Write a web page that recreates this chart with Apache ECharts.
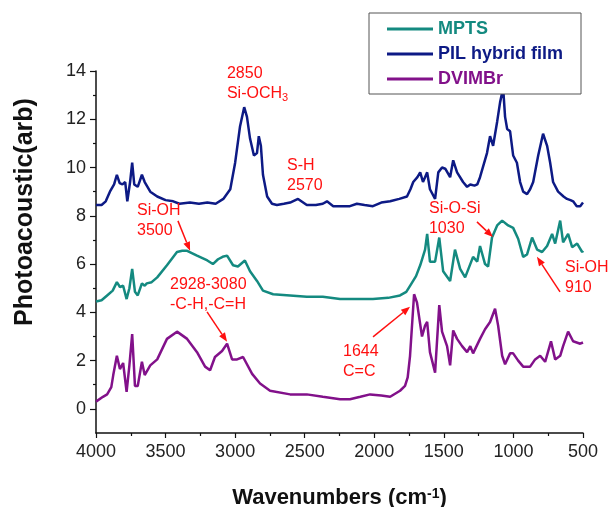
<!DOCTYPE html>
<html><head><meta charset="utf-8">
<script src="https://cdn.jsdelivr.net/npm/echarts@6/dist/echarts.min.js"></script>
<style>html,body{margin:0;padding:0;background:#fff}#c{width:608px;height:507px}</style>
</head><body><div id="c"></div>
<script>
const seriesNames = ['MPTS', 'PIL hybrid film', 'DVIMBr'];

const pilWave = [4000,3960,3930,3900,3870,3850,3830,3810,3790,3775,3755,3740,3725,3700,3670,3650,3610,3560,3500,3445,3400,3325,3260,3200,3140,3085,3035,3000,2965,2935,2915,2893,2865,2843,2830,2815,2800,2770,2735,2700,2650,2605,2548,2485,2420,2370,2340,2295,2246,2175,2125,2070,2010,1950,1886,1820,1765,1740,1720,1690,1670,1650,1635,1620,1600,1563,1540,1513,1490,1477,1455,1433,1405,1362,1333,1310,1280,1260,1240,1190,1168,1146,1117,1096,1074,1060,1045,1024,1002,975,952,930,902,880,858,822,787,758,736,715,679,640,615,590,571,545,520,500];
const pilVal = [8.45,8.45,8.6,9.0,9.3,9.7,9.35,9.3,9.4,8.6,9.4,10.2,9.3,9.2,9.7,9.4,9.0,8.8,8.65,8.6,8.5,8.55,8.5,8.55,8.5,8.7,9.1,10.2,11.7,12.5,12.1,11.2,10.5,10.6,11.3,10.9,9.7,8.8,8.5,8.45,8.5,8.55,8.7,8.45,8.45,8.5,8.6,8.4,8.4,8.4,8.5,8.45,8.4,8.55,8.6,8.7,8.8,9.1,9.4,9.6,9.8,9.4,9.6,9.8,9.1,8.7,9.8,10.0,9.95,10.0,9.6,10.3,9.8,9.4,9.2,9.3,9.25,9.3,9.6,10.6,11.3,10.9,11.9,12.7,13.3,12.1,11.6,11.5,10.5,10.2,9.4,9.0,8.9,9.1,9.4,10.5,11.4,10.9,10.2,9.4,9.0,8.8,8.7,8.65,8.6,8.4,8.4,8.55];

const mptsWave = [4000,3960,3920,3880,3850,3828,3805,3780,3760,3740,3720,3700,3670,3650,3635,3600,3560,3490,3418,3380,3345,3274,3200,3160,3123,3090,3058,3015,2980,2930,2893,2843,2800,2727,2605,2485,2370,2246,2175,2010,1900,1815,1770,1743,1700,1670,1635,1620,1600,1563,1533,1505,1455,1420,1383,1347,1290,1260,1240,1204,1182,1154,1117,1081,1038,1002,966,930,902,866,830,794,758,722,700,664,643,607,578,542,506,500];
const mptsVal = [4.45,4.5,4.7,4.9,5.25,5.05,5.1,4.55,5.0,5.8,4.85,4.7,5.2,5.1,5.2,5.25,5.45,5.95,6.5,6.55,6.55,6.35,6.15,6.0,6.2,6.3,6.35,5.95,5.9,6.15,5.7,5.3,4.9,4.75,4.7,4.65,4.65,4.55,4.55,4.55,4.6,4.7,4.85,5.1,5.5,5.95,6.6,7.25,6.1,6.1,7.1,5.7,5.3,6.6,5.8,5.45,6.3,6.1,6.75,6.0,5.9,7.1,7.6,7.8,7.6,7.5,7.05,6.3,6.4,7.1,6.6,6.5,6.75,7.25,6.85,7.8,6.9,7.25,6.7,6.85,6.5,6.55];

const dvimWave = [4000,3950,3920,3890,3876,3850,3828,3805,3780,3760,3740,3720,3700,3670,3650,3610,3560,3490,3418,3345,3274,3216,3180,3145,3094,3058,3022,2986,2943,2878,2821,2749,2605,2485,2370,2246,2175,2100,2030,1950,1886,1815,1779,1760,1743,1714,1693,1657,1635,1620,1600,1563,1533,1513,1477,1455,1433,1405,1369,1333,1310,1290,1240,1204,1168,1132,1110,1081,1060,1024,1002,966,930,880,844,808,772,730,700,664,643,607,571,520,500];
const dvimVal = [0.3,0.5,0.6,0.9,1.4,2.2,1.65,1.9,0.7,1.8,3.1,0.95,0.95,1.95,1.4,1.8,2.05,2.9,3.2,2.9,2.35,1.75,1.6,2.15,2.4,2.7,2.05,2.05,2.15,1.45,1.05,0.75,0.6,0.6,0.5,0.4,0.4,0.5,0.6,0.55,0.5,0.75,0.95,1.3,2.2,4.75,4.4,3.0,3.45,3.6,2.35,1.5,4.3,3.2,2.6,1.8,3.25,2.9,2.6,2.35,2.6,2.3,2.9,3.3,3.6,4.15,3.45,2.2,1.85,2.3,2.3,2.0,1.75,1.75,2.05,2.2,1.95,2.8,2.05,2.2,2.6,3.2,2.8,2.7,2.75];

const yTickLabels = [0, 2, 4, 6, 8, 10, 12, 14];

// annotation texts (data coordinates of the text block's top-left) and arrows
const annotations = [
  {text: '{t|2850}\n{t|Si-OCH}{s|3}', x: 3059, y: 14.3},
  {text: '{t|S-H}\n{t|2570}', x: 2627, y: 10.5},
  {text: '{t|Si-OH}\n{t|3500}', x: 3705, y: 8.65},
  {text: '{t|2928-3080}\n{t|-C-H,-C=H}', x: 3468, y: 5.55},
  {text: '{t|1644}\n{t|C=C}', x: 2225, y: 2.8},
  {text: '{t|Si-O-Si}\n{t|1030}', x: 1607, y: 8.7},
  {text: '{t|Si-OH}\n{t|910}', x: 629, y: 6.25}
];
const arrows = [
  [[3411, 7.79], [3324, 6.55]],
  [[3202, 4.02], [3058, 2.78]],
  [[2009, 2.98], [1743, 4.23]],
  [[1262, 7.75], [1147, 7.12]],
  [[665, 4.85], [831, 6.3]]
];

const colors = {'MPTS': '#148a80', 'PIL hybrid film': '#0d1a85', 'DVIMBr': '#82118a'};
const FONT = 'Liberation Sans, Arial, sans-serif';
const RED = '#ff1010';

function pairs(w, v) { return w.map((x, i) => [x, v[i]]); }

const chart = echarts.init(document.getElementById('c'), null, {renderer: 'canvas'});

function mkSeries(name, w, v) {
  return {
    name: name, type: 'line', data: pairs(w, v), showSymbol: false, symbol: 'none',
    lineStyle: {color: colors[name], width: 2.5}, itemStyle: {color: colors[name]},
    animation: false, z: 2
  };
}

const option = {
  backgroundColor: '#ffffff',
  animation: false,
  grid: {left: 96, right: 25, top: 71, bottom: 74, containLabel: false, outerBoundsMode: 'none'},
  legend: {
    orient: 'vertical', left: 369, top: 13,
    padding: [6, 18, 5, 18], borderColor: '#555', borderWidth: 1, backgroundColor: '#fff',
    itemWidth: 46, itemHeight: 3, itemGap: 5, icon: 'rect',
    textStyle: {fontFamily: FONT, fontSize: 18, fontWeight: 'bold', lineHeight: 20},
    data: seriesNames.map(n => ({name: n, textStyle: {color: colors[n]}})),
    selectedMode: false, z: 10
  },
  xAxis: {
    type: 'value', inverse: true, min: 500, max: 4000, interval: 500,
    name: 'Wavenumbers (cm{sup|-1})', nameLocation: 'middle', nameGap: 54,
    nameTextStyle: {fontFamily: FONT, fontSize: 22, fontWeight: 'bold', color: '#111',
      rich: {sup: {fontFamily: FONT, fontSize: 14, fontWeight: 'bold', color: '#111', verticalAlign: 'top', lineHeight: 12}}},
    axisLine: {onZero: false, lineStyle: {color: '#111', width: 1.5}},
    axisTick: {show: true, inside: false, length: 5, lineStyle: {color: '#111', width: 1.2}},
    minorTick: {show: true, splitNumber: 2, length: 3, lineStyle: {color: '#111', width: 1.2}},
    axisLabel: {fontFamily: FONT, fontSize: 18, color: '#222', margin: 10, formatter: v => String(v)},
    splitLine: {show: false}
  },
  yAxis: {
    type: 'value', min: -1, max: 14, splitNumber: 7,
    axisLine: {show: true, onZero: false, lineStyle: {color: '#111', width: 1.5}},
    axisTick: {show: true, length: 6, customValues: yTickLabels, lineStyle: {color: '#111', width: 1.2}},
    minorTick: {show: true, splitNumber: 2, length: 3, lineStyle: {color: '#111', width: 1.2}},
    axisLabel: {fontFamily: FONT, fontSize: 18, color: '#222', margin: 10, customValues: yTickLabels},
    splitLine: {show: false}
  },
  series: [
    mkSeries('PIL hybrid film', pilWave, pilVal),
    mkSeries('MPTS', mptsWave, mptsVal),
    mkSeries('DVIMBr', dvimWave, dvimVal)
  ]
};

chart.setOption(option);

const rich = {
  t: {fontFamily: FONT, fontSize: 16, fill: RED, color: RED, lineHeight: 20},
  s: {fontFamily: FONT, fontSize: 11, fill: RED, color: RED, lineHeight: 12, verticalAlign: 'bottom'}
};
const graphics = annotations.map(a => {
  const p = chart.convertToPixel({xAxisIndex: 0, yAxisIndex: 0}, [a.x, a.y]);
  return {type: 'text', x: p[0], y: p[1], z: 20, silent: true,
    style: {text: a.text, rich: rich, fill: RED, font: '16px ' + FONT, align: 'left', verticalAlign: 'top'}};
});
arrows.forEach(a => {
  const p0 = chart.convertToPixel({xAxisIndex: 0, yAxisIndex: 0}, a[0]);
  const p1 = chart.convertToPixel({xAxisIndex: 0, yAxisIndex: 0}, a[1]);
  const dx = p1[0] - p0[0], dy = p1[1] - p0[1];
  const len = Math.sqrt(dx * dx + dy * dy);
  const ux = dx / len, uy = dy / len;
  const hl = 9, hw = 3.5;
  const bx = p1[0] - ux * hl, by = p1[1] - uy * hl;
  graphics.push({type: 'line', z: 20, silent: true,
    shape: {x1: p0[0], y1: p0[1], x2: bx, y2: by},
    style: {stroke: RED, lineWidth: 1.5}});
  graphics.push({type: 'polygon', z: 20, silent: true,
    shape: {points: [[p1[0], p1[1]], [bx - uy * hw, by + ux * hw], [bx + uy * hw, by - ux * hw]]},
    style: {fill: RED}});
});
graphics.push({type: 'text', x: 25, y: 212, rotation: Math.PI / 2, z: 20, silent: true,
  style: {text: 'Photoacoustic(arb)', font: 'bold 25px ' + FONT, fill: '#111', align: 'center', verticalAlign: 'middle'}});
chart.setOption({graphic: graphics});
</script></body></html>
